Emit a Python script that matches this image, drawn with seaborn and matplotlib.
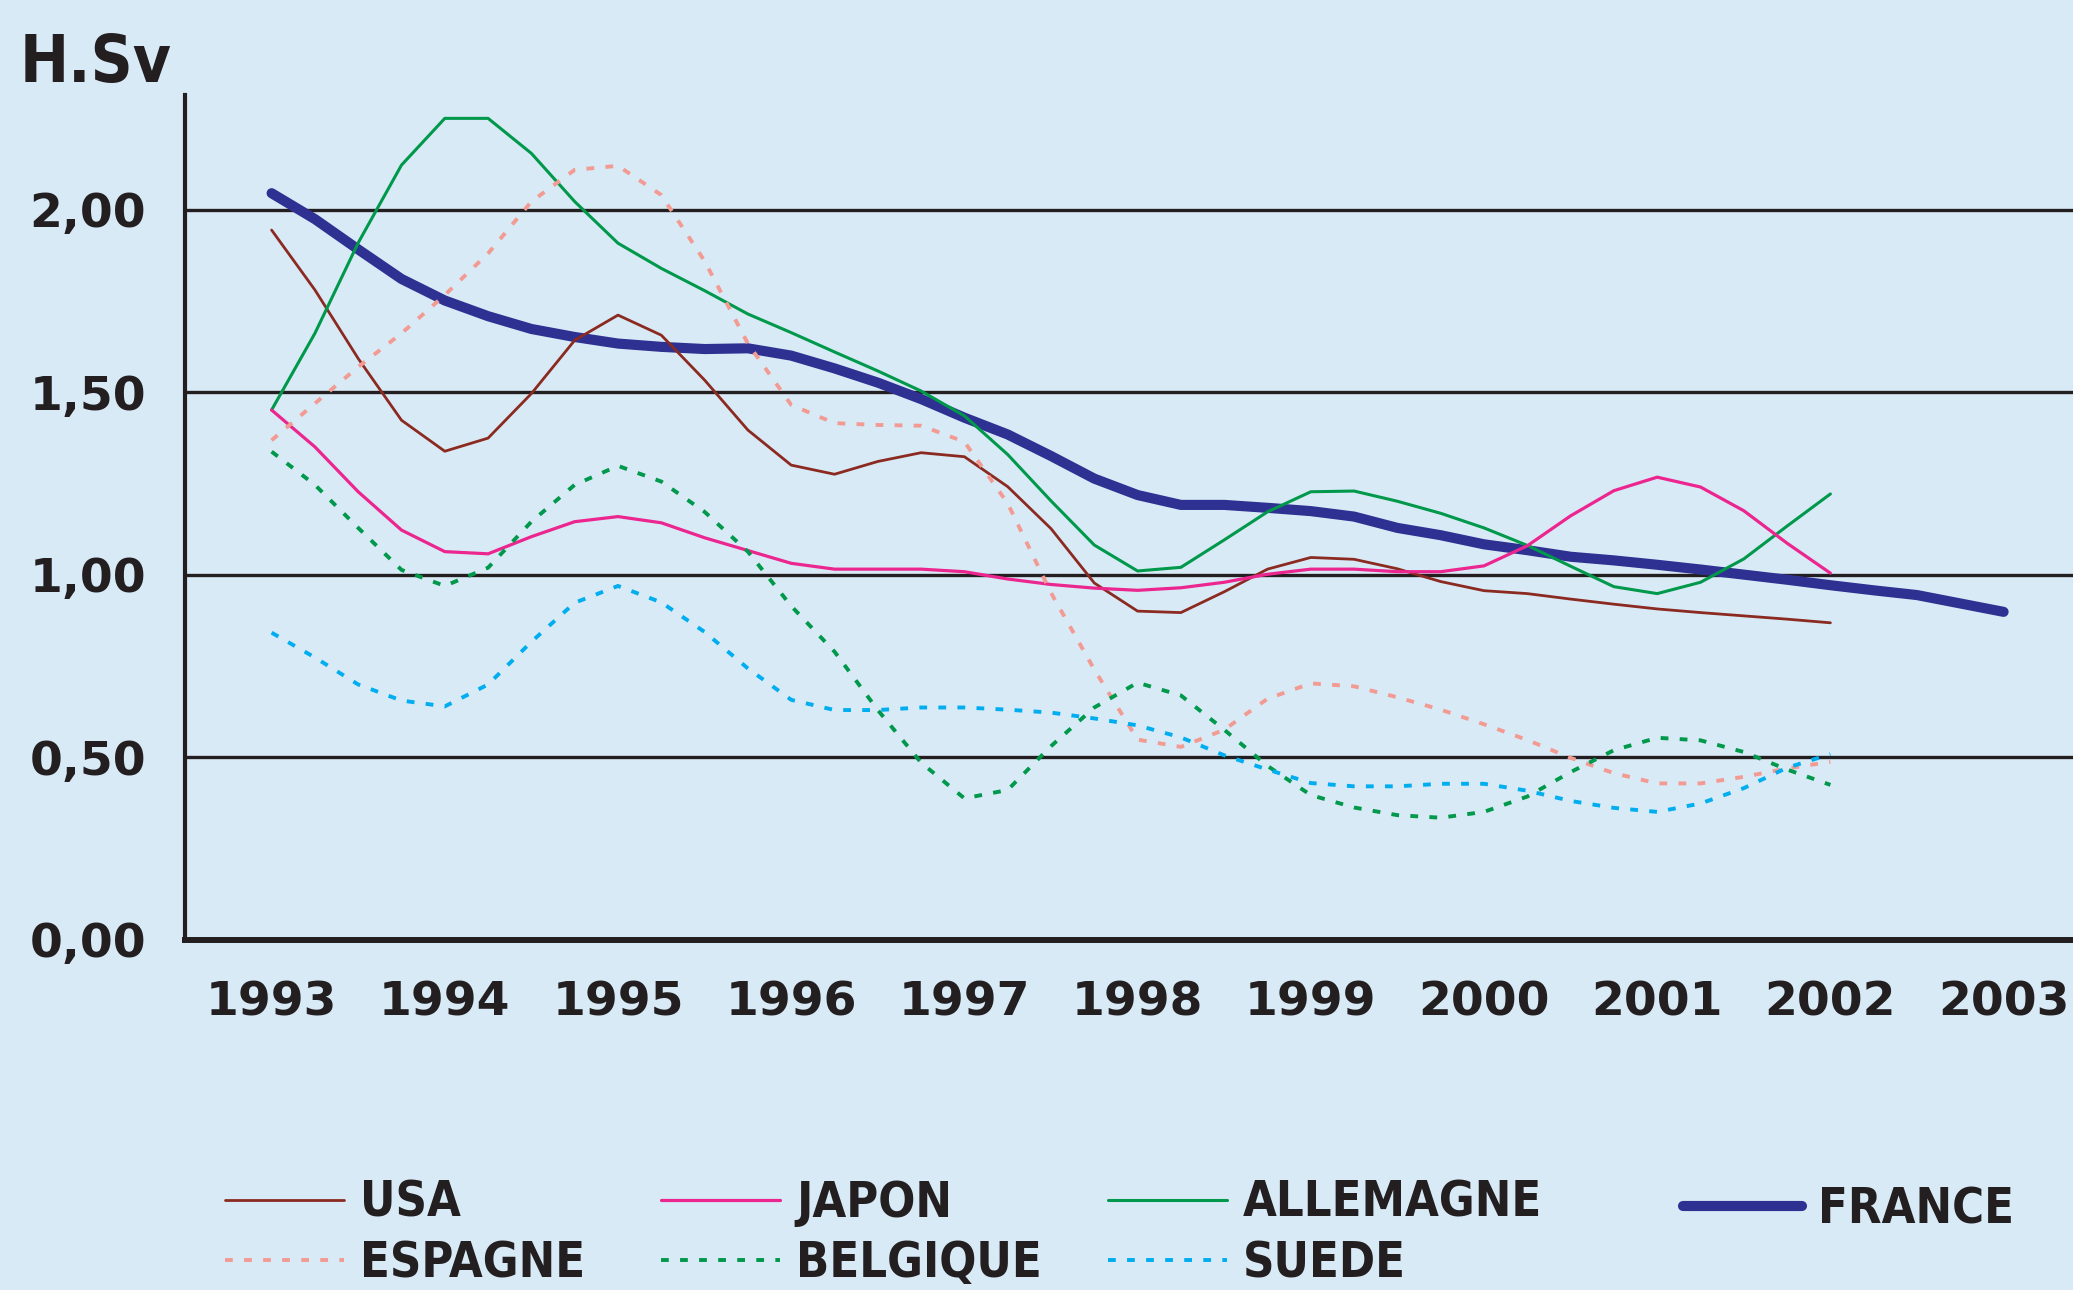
import numpy as np
import pandas as pd
import seaborn as sns
import matplotlib
matplotlib.use('Agg')
import matplotlib.pyplot as plt
from matplotlib import font_manager
from matplotlib.font_manager import FontProperties

# --- Donnees (valeur par trimestre, H.Sv) ---
annees = [1993, 1994, 1995, 1996, 1997, 1998, 1999, 2000, 2001, 2002, 2003]
etiquettes_y = ['0,00', '0,50', '1,00', '1,50', '2,00']

# abscisses : 1993.0, 1993.25, ... (trimestres)
trimestres = np.arange(1993, 2002.01, 0.25)
trimestres_france = np.arange(1993, 2003.01, 0.25)

usa = [1.945, 1.781, 1.593, 1.424, 1.339, 1.375, 1.497, 1.643, 1.712, 1.657,
       1.534, 1.397, 1.301, 1.276, 1.311, 1.335, 1.324, 1.242, 1.127, 0.978,
       0.901, 0.897, 0.954, 1.016, 1.048, 1.043, 1.017, 0.982, 0.957, 0.949,
       0.934, 0.920, 0.907, 0.897, 0.888, 0.879, 0.869]
japon = [1.452, 1.351, 1.228, 1.123, 1.064, 1.058, 1.105, 1.146, 1.160, 1.143,
         1.102, 1.067, 1.032, 1.016, 1.016, 1.016, 1.009, 0.989, 0.974, 0.964,
         0.958, 0.965, 0.980, 1.002, 1.016, 1.016, 1.009, 1.009, 1.025, 1.080,
         1.162, 1.231, 1.268, 1.241, 1.176, 1.087, 1.005]
allemagne = [1.452, 1.662, 1.910, 2.123, 2.251, 2.251, 2.155, 2.023, 1.909, 1.840,
             1.779, 1.715, 1.664, 1.611, 1.559, 1.504, 1.436, 1.330, 1.203, 1.082,
             1.011, 1.021, 1.096, 1.173, 1.228, 1.230, 1.202, 1.169, 1.129, 1.081,
             1.024, 0.968, 0.949, 0.980, 1.044, 1.134, 1.222]
france = [2.046, 1.975, 1.892, 1.811, 1.752, 1.709, 1.674, 1.652, 1.634, 1.625,
          1.619, 1.621, 1.601, 1.566, 1.527, 1.482, 1.431, 1.385, 1.326, 1.264,
          1.219, 1.192, 1.192, 1.184, 1.175, 1.160, 1.129, 1.109, 1.084, 1.068,
          1.050, 1.040, 1.028, 1.015, 1.001, 0.987, 0.972, 0.958, 0.945, 0.922,
          0.899]
espagne = [1.369, 1.470, 1.570, 1.662, 1.767, 1.881, 2.023, 2.110, 2.121, 2.041,
           1.860, 1.634, 1.466, 1.416, 1.411, 1.409, 1.365, 1.196, 0.951, 0.741,
           0.549, 0.529, 0.576, 0.661, 0.703, 0.695, 0.665, 0.631, 0.591, 0.548,
           0.499, 0.457, 0.429, 0.429, 0.447, 0.470, 0.488]
belgique = [1.338, 1.247, 1.129, 1.014, 0.970, 1.020, 1.146, 1.247, 1.299, 1.256,
            1.173, 1.064, 0.915, 0.790, 0.630, 0.486, 0.388, 0.411, 0.531, 0.637,
            0.705, 0.670, 0.576, 0.477, 0.397, 0.363, 0.342, 0.335, 0.351, 0.393,
            0.460, 0.520, 0.554, 0.547, 0.515, 0.467, 0.425]
suede = [0.842, 0.774, 0.700, 0.656, 0.640, 0.700, 0.817, 0.924, 0.970, 0.925,
         0.844, 0.744, 0.658, 0.630, 0.630, 0.637, 0.637, 0.631, 0.623, 0.607,
         0.588, 0.555, 0.506, 0.467, 0.430, 0.421, 0.421, 0.428, 0.428, 0.409,
         0.381, 0.362, 0.351, 0.374, 0.416, 0.472, 0.509]

# --- Styles ---
fond = '#d9eaf7'
noir = '#231f20'
pointille = (0, (2.0, 2.9))
series = [
    # (nom, x, y, couleur, epaisseur, style)
    ('FRANCE', trimestres_france, france, '#2e3192', 7.3, '-'),
    ('USA', trimestres, usa, '#8b2a21', 2.0, '-'),
    ('ALLEMAGNE', trimestres, allemagne, '#00984a', 2.2, '-'),
    ('JAPON', trimestres, japon, '#ec268f', 2.3, '-'),
    ('ESPAGNE', trimestres, espagne, '#f29b93', 2.8, pointille),
    ('BELGIQUE', trimestres, belgique, '#00984a', 2.8, pointille),
    ('SUEDE', trimestres, suede, '#00aeef', 2.8, pointille),
]

sns.set_style('white')


# police etroite et grasse pour les textes (comme sur l'original), si elle existe
def est_gras(f):
    w = f.weight
    if isinstance(w, str):
        return w in ('bold', 'heavy', 'extra bold', 'black', 'semibold', 'demibold')
    return w >= 600


def est_etroit(f):
    return ('Narrow' in f.name or 'Condensed' in f.name or 'condensed' in str(f.stretch)
            or 'Condensed' in f.fname or 'Narrow' in f.fname)


candidats = [f for f in font_manager.fontManager.ttflist if est_gras(f) and est_etroit(f)]
candidats.sort(key=lambda f: (0 if 'Liberation' in f.name else 1 if 'DejaVu' in f.name else 2, f.fname))
if candidats:
    fichier = candidats[0].fname
    taille_leg, taille_titre = 35, 47
    police_leg = FontProperties(fname=fichier, size=taille_leg)
    police_titre = FontProperties(fname=fichier, size=taille_titre)
else:
    taille_leg, taille_titre = 33, 45
    police_leg = FontProperties(family='Liberation Sans', weight='bold', size=taille_leg)
    police_titre = FontProperties(family='Liberation Sans', weight='bold', size=taille_titre)

fig = plt.figure(figsize=(20.73, 12.90), dpi=100, facecolor=fond)
ax = fig.add_axes([185 / 2073, 1 - 940 / 1290, (2073 - 185) / 2073, (940 - 95) / 1290])
ax.set_facecolor(fond)

for nom, x, y, couleur, lw, ls in series:
    df = pd.DataFrame({'annee': x, 'dose': y})
    sns.lineplot(data=df, x='annee', y='dose', color=couleur, linewidth=lw,
                 linestyle=ls, label=nom, legend=False, ax=ax)

poignees, noms = ax.get_legend_handles_labels()
if ax.get_legend() is not None:
    ax.get_legend().remove()
par_nom = dict(zip(noms, poignees))

ax.set_xlim(1992.5, 1992.5 + (2073 - 185) / 173.2)
ax.set_ylim(0, 2.315)
ax.set_xlabel('')
ax.set_ylabel('')

# graduations : traits entre les annees, annees centrees
ax.set_xticks([a - 0.5 for a in annees])
ax.set_xticklabels([])
ax.set_xticks(annees, minor=True)
ax.set_xticklabels([str(a) for a in annees], minor=True)
ax.tick_params(axis='x', which='major', length=18, width=3.5, color=noir, direction='out')
ax.tick_params(axis='x', which='minor', length=0, pad=29)
ax.set_yticks([0, 0.5, 1.0, 1.5, 2.0])
ax.set_yticklabels(etiquettes_y)
ax.tick_params(axis='y', length=19, width=4.5, color=noir, pad=9, direction='out')

for lab in ax.get_xticklabels(minor=True) + ax.get_yticklabels():
    lab.set_fontfamily('DejaVu Sans')
    lab.set_fontweight('bold')
    lab.set_fontsize(34)
    lab.set_color(noir)

ax.yaxis.grid(True, color=noir, linewidth=2.4)
ax.xaxis.grid(False)
ax.set_axisbelow(True)
for cote in ['top', 'right']:
    ax.spines[cote].set_visible(False)
ax.spines['left'].set_linewidth(3.0)
ax.spines['left'].set_color(noir)
ax.spines['bottom'].set_linewidth(4.3)
ax.spines['bottom'].set_color(noir)

fig.text(20 / 2073, 1 - 82 / 1290, 'H.Sv', fontproperties=police_titre,
         color=noir, va='baseline', ha='left')

# --- Legende en 4 colonnes placees a la main ---
colonnes = [(['USA', 'ESPAGNE'], 225), (['JAPON', 'BELGIQUE'], 661),
            (['ALLEMAGNE', 'SUEDE'], 1108), (['FRANCE'], 1683)]
for noms_col, x_px in colonnes:
    y_centre = 1233 if len(noms_col) == 2 else 1209
    leg = fig.legend([par_nom[n] for n in noms_col], noms_col,
                     loc='center left', bbox_to_anchor=(x_px / 2073, 1 - y_centre / 1290),
                     frameon=False, borderpad=0, borderaxespad=0,
                     handlelength=119 / (taille_leg * 1.389), handletextpad=0.33,
                     labelspacing=0.26, prop=police_leg)
    for t in leg.get_texts():
        t.set_color(noir)

fig.savefig('out.png', dpi=100, facecolor=fond)
